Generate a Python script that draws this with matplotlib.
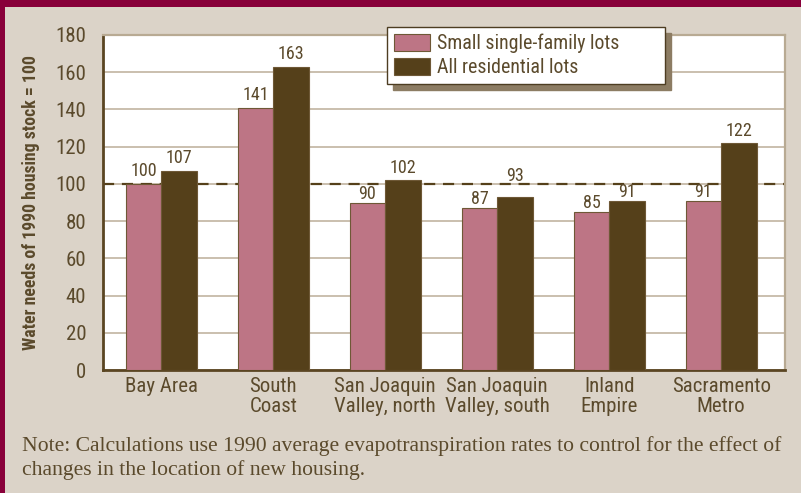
import matplotlib
matplotlib.use('Agg')
import matplotlib.pyplot as plt
import numpy as np
from matplotlib.patches import Rectangle

regions = ['Bay Area', 'South\nCoast', 'San Joaquin\nValley, north',
           'San Joaquin\nValley, south', 'Inland\nEmpire', 'Sacramento\nMetro']
small_lots = [100, 141, 90, 87, 85, 91]
all_lots = [107, 163, 102, 93, 91, 122]
series_names = ['Small single-family lots', 'All residential lots']
y_ticks = [0, 20, 40, 60, 80, 100, 120, 140, 160, 180]
baseline_value = 100

bg = '#dbd3c8'
maroon = '#88003a'
pink = '#bd7585'
brown = '#55401a'
text_c = '#5b4a2c'
grid_c = '#c6baa8'
narrow = ['Roboto Condensed', 'Liberation Sans Narrow', 'Roboto', 'DejaVu Sans']
serif = ['Liberation Serif', 'DejaVu Serif']

fig = plt.figure(figsize=(8.01, 4.93), dpi=100, facecolor=bg)

# maroon frame on top and left
fig.patches.append(Rectangle((0, 1 - 7 / 493), 1, 7 / 493, transform=fig.transFigure,
                             facecolor=maroon, edgecolor='none', zorder=0))
fig.patches.append(Rectangle((0, 0), 5 / 801, 1, transform=fig.transFigure,
                             facecolor=maroon, edgecolor='none', zorder=0))

ax = fig.add_axes([103 / 801, (493 - 370) / 493, (785 - 103) / 801, (370 - 35) / 493])
ax.set_facecolor('white')

x = np.arange(len(regions))
w = 0.317
b1 = ax.bar(x - w / 2, small_lots, w, color=pink, edgecolor='#6e5836', linewidth=0.8, zorder=3,
            label=series_names[0])
b2 = ax.bar(x + w / 2, all_lots, w, color=brown, edgecolor='#6e5836', linewidth=0.8, zorder=3,
            label=series_names[1])

# value labels: squeeze under the dashed line if they fit, else hop above it
for bars, vals in ((b1, small_lots), (b2, all_lots)):
    for r, v in zip(bars, vals):
        if v >= baseline_value:
            ty = v + 4
        elif v + 8.5 <= baseline_value:
            ty = v + 2
        else:
            ty = baseline_value + 1.5
        ax.text(r.get_x() + r.get_width() / 2, ty, str(v), ha='center', va='baseline',
                fontsize=13, color=text_c, family=narrow, zorder=4)

ax.axhline(baseline_value, color=brown, linewidth=1.6, dashes=(5, 3.5), zorder=2)

ax.set_xlim(-0.52, 5.57)
ax.set_ylim(0, 180)
ax.set_yticks(y_ticks)
ax.yaxis.grid(True, color=grid_c, linewidth=1.3, zorder=0)
ax.set_axisbelow(True)
ax.tick_params(length=0)
ax.tick_params(axis='y', pad=12)
ax.tick_params(axis='x', pad=5)
ax.set_xticks(x)
ax.set_xticklabels(regions, linespacing=1.05)
for lbl in ax.get_xticklabels() + ax.get_yticklabels():
    lbl.set_family(narrow)
    lbl.set_fontsize(15)
    lbl.set_color(text_c)

for s in ('left', 'bottom'):
    ax.spines[s].set_color('#5a4522')
    ax.spines[s].set_linewidth(2)
for s in ('top', 'right'):
    ax.spines[s].set_color('#b8aa93')
    ax.spines[s].set_linewidth(1.6)

ax.set_ylabel('Water needs of 1990 housing stock = 100', family=narrow, fontsize=12.8,
              fontweight='bold', color=text_c, labelpad=11)

leg = fig.legend(loc='upper left', bbox_to_anchor=(387 / 801, 1 - 83 / 493, 278 / 801, 56 / 493),
                 mode='expand', borderaxespad=0,
                 frameon=True, fancybox=False, shadow={'color': '#8c7c63', 'alpha': 1, 'ox': 4, 'oy': -4},
                 prop={'family': narrow, 'size': 14.3}, handlelength=1.8, handleheight=0.95,
                 handletextpad=0.35, labelspacing=0.22, borderpad=0.35)
leg.get_frame().set_edgecolor('#4d3d22')
leg.get_frame().set_linewidth(1)
for t in leg.get_texts():
    t.set_color(text_c)

fig.text(22 / 801, 1 - 458 / 493, 'Note: Calculations use 1990 average evapotranspiration rates '
         'to control for the effect of\nchanges in the location of new housing.',
         ha='left', va='center', family=serif, fontsize=15.6, color=text_c, linespacing=1.3)

fig.savefig('out.png', dpi=100, facecolor=bg)
